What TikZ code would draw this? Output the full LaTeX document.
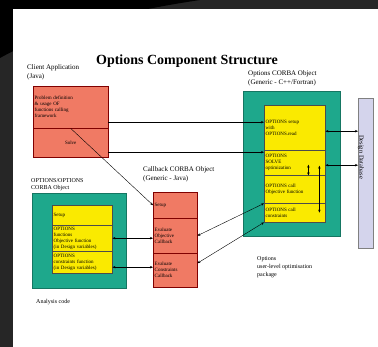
\documentclass[tikz,border=0pt]{standalone}
\usepackage{fontspec}
\setmainfont{Liberation Serif}
\usetikzlibrary{positioning,calc,fit,arrows.meta}

\definecolor{salmon}{RGB}{240,122,100}
\definecolor{teal}{RGB}{30,168,140}
\definecolor{lemon}{RGB}{250,234,0}
\definecolor{lilac}{RGB}{212,212,236}

\begin{document}
\begin{tikzpicture}[x=1pt,y=-1pt,>={Stealth[length=3pt,width=2.4pt]},
  redpart/.style={rectangle,draw=red!50!black,fill=salmon,anchor=north west,inner sep=1.5pt,
    minimum width=#1,text width=#1-3pt,align=left,font=\fontsize{5}{6}\selectfont},
  yelpart/.style={rectangle,draw=black!70,fill=lemon,anchor=north west,inner sep=1.5pt,
    minimum width=#1,text width=#1-3pt,align=left,font=\fontsize{5}{6}\selectfont},
  greenbox/.style={rectangle,fill=teal,draw=teal!70!black,anchor=north west,inner sep=0pt},
  caption/.style={anchor=north west,align=left,inner sep=0pt,font=\fontsize{7}{9}\selectfont},
  link/.style={draw,thin}]
% slide background
\fill[black!85] (0,0) rectangle (378,347);
\fill[black] (0,0) -- (200,0) .. controls (120,12) and (50,30) .. (0,58) -- cycle;
\fill[white] (13,9) rectangle (378,347);

\node[font=\fontsize{14}{16}\selectfont\bfseries] (title) at (187,61) {Options Component Structure};

% client application
\node[caption] (calab) at (27,64) {Client Application\\(Java)};
\node[redpart=75pt,minimum height=42pt] (ca1) at (33,86)
  {Problem definition\\ \& usage OF\\ functions calling\\ framework};
\node[redpart=75pt,minimum height=29pt,align=center] (ca2) at (33,128) {Solve};

% options corba object
\node[caption] (oplab) at (248,70) {Options CORBA Object\\(Generic - C++/Fortran)};
\node[greenbox,minimum width=97pt,minimum height=145pt] (opgreen) at (243,91) {};
\node[yelpart=61pt,minimum height=45pt] (s1) at (264,105) {OPTIONS setup\\with\\OPTIONS.read};
\node[yelpart=61pt,minimum height=25pt] (s2) at (264,150) {OPTIONS\\SOLVE\\optimization};
\node[yelpart=61pt,minimum height=28pt] (s3) at (264,175) {OPTIONS call\\Objective function};
\node[yelpart=61pt,minimum height=19pt] (s4) at (264,203) {OPTIONS call\\constraints};

\node[rectangle,draw=black!50,fill=lilac,anchor=north west,minimum width=15pt,minimum height=150pt,inner sep=0pt]
  (bar) at (358,98) {};
\node[rotate=-90,font=\fontsize{6.5}{7}\selectfont,inner sep=0pt] (bartext) at (361,157) {Design Database};

% analysis code side
\node[caption,font=\fontsize{6}{7.5}\selectfont] (anlab) at (31,178) {OPTIONS/OPTIONS\\CORBA Object};
\node[greenbox,minimum width=94pt,minimum height=95pt] (angreen) at (32,193) {};
\node[yelpart=60pt,minimum height=20pt] (lo1) at (52,205) {Setup};
\node[yelpart=60pt,minimum height=26pt] (lo2) at (52,225)
  {OPTIONS\\functions\\Objective function\\(in Design variables)};
\node[yelpart=60pt,minimum height=22pt] (lo3) at (52,251)
  {OPTIONS\\constraints function\\(in Design variables)};

% callback object
\node[caption] (cblab) at (143,166) {Callback CORBA Object\\(Generic - Java)};
\node[redpart=44pt,minimum height=26pt] (cb1) at (153,192) {Setup};
\node[redpart=44pt,minimum height=35pt] (cb2) at (153,218) {Evaluate\\Objective\\Callback};
\node[redpart=44pt,minimum height=34pt] (cb3) at (153,253) {Evaluate\\Constraints\\Callback};

\node[anchor=west,inner sep=0pt,font=\fontsize{6}{7}\selectfont] (ancode) at (36,302) {Analysis code};
\node[caption,font=\fontsize{6}{8}\selectfont] (oppkg) at (257,256) {Options\\user-level optimisation\\package};

% connectors
\draw[link,->] ([yshift=-15pt]ca1.east) -- ([yshift=-15pt]ca1.east -| s1.west);
\draw[link,->] ([yshift=-9.5pt]ca2.east) -- ([yshift=-9.5pt]ca2.east -| s2.west);
\draw[link,->] (ca1.south) -- (cb1.west);
\draw[link,<->] (lo2.east) -- (lo2.east -| cb2.west);
\draw[link,<->] ([yshift=-5pt]lo3.east) -- ([yshift=-5pt]lo3.east -| cb3.west);
\draw[link,<->] (cb2.east) -- (s3.south west);
\draw[link,<->] ([yshift=7pt]cb3.east) -- (s4.south west);
\draw[link,<->] ([yshift=-3.5pt]s1.east) -- ([yshift=-3.5pt]s1.east -| bar.west);
\draw[link,<->] ([yshift=-2.5pt]s2.east) -- ([yshift=-2.5pt]s2.east -| bar.west);
\draw[link,<->] ([xshift=-6pt,yshift=-3pt]s2.east) -- ([xshift=-6pt]s4.east);
\draw[link,<->] ([xshift=-17pt,yshift=-2pt]s2.east) -- ([xshift=-17pt]s2.south east);
\end{tikzpicture}
\end{document}
